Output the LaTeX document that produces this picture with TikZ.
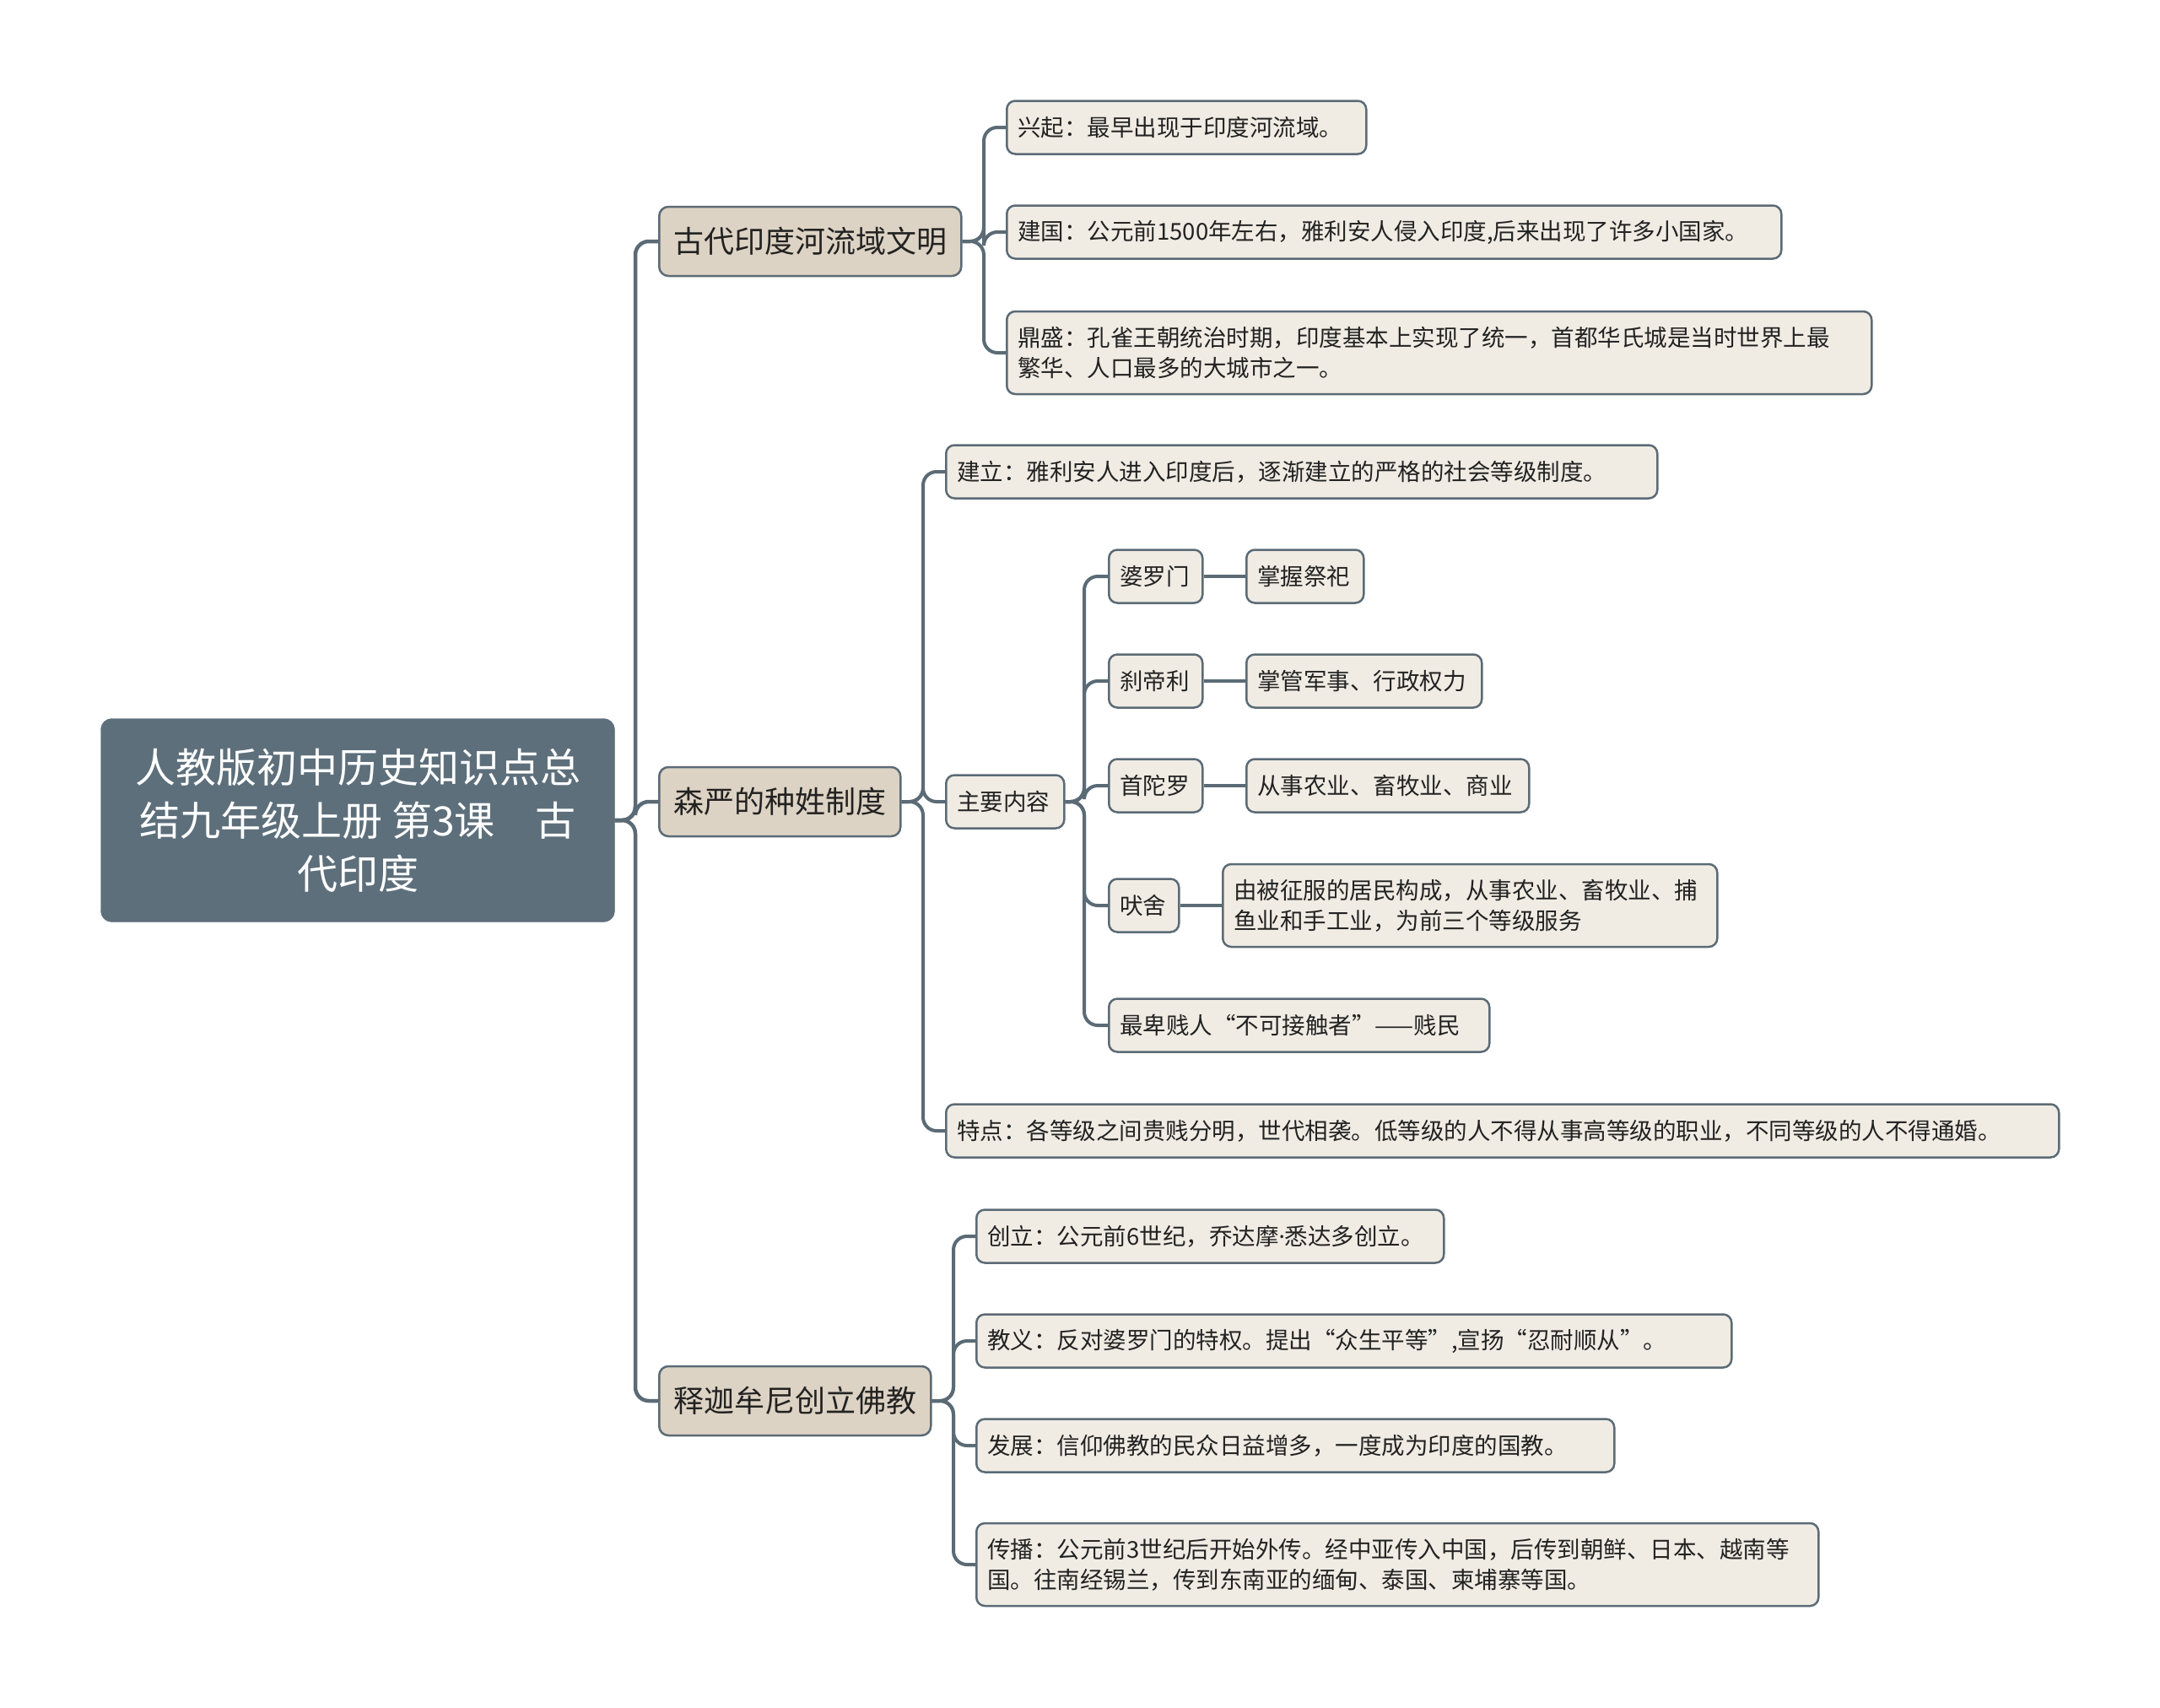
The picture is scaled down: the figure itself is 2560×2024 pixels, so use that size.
\documentclass[tikz,border=0pt]{standalone}
\usepackage{fontspec}
\setmainfont{Noto Sans CJK SC}
\newfontfamily\latinf{Noto Sans}
\definecolor{lnc}{HTML}{5B6B76}
\definecolor{rootc}{HTML}{5D6F7B}
\definecolor{lonec}{HTML}{DDD3C4}
\definecolor{ltwoc}{HTML}{F0ECE4}
\definecolor{txtc}{HTML}{222222}
\tikzset{
  rootbox/.style={draw=rootc, fill=rootc, rounded corners=13pt, text=white, align=center,
    minimum width=609pt, minimum height=241pt, inner sep=0pt,
    font=\fontsize{48}{63}\selectfont},
  onebox/.style={draw=lnc, line width=2.5pt, fill=lonec, rounded corners=11pt, text=txtc,
    minimum height=82pt, inner xsep=17pt, inner ysep=0pt, anchor=west,
    font=\fontsize{36}{44}\selectfont},
  twobox/.style={draw=lnc, line width=2.5pt, fill=ltwoc, rounded corners=10pt, text=txtc,
    minimum height=63pt, inner xsep=13pt, inner ysep=0pt, anchor=west, align=left,
    font=\fontsize{27.5}{36}\selectfont},
  conn/.style={draw=lnc, line width=4pt, rounded corners=16pt},
  mainconn/.style={draw=lnc, line width=4.5pt, rounded corners=16pt},
}
\begin{document}
\begin{tikzpicture}[x=1pt,y=-1pt]
\useasboundingbox (0,0) rectangle (2560,2024);
\fill[white] (0,0) rectangle (2560,2024);

% root
\node[rootbox] (root) at (424,972) {人教版初中历史知识点总\\结九年级上册 第3课\hspace{1em}古\\代印度};

% level 1
\node[onebox] (la) at (780,286) {古代印度河流域文明};
\node[onebox] (lb) at (780,950) {森严的种姓制度};
\node[onebox] (lc) at (780,1660) {释迦牟尼创立佛教};

% junction coordinates
\coordinate (jr) at (753,0);
\coordinate (ja) at (1166,0);
\coordinate (jb) at (1094,0);
\coordinate (jm) at (1285,0);
\coordinate (jc) at (1130,0);

% level 2 under la
\node[twobox, text width=400pt] (a1) at (1192,151) {兴起：最早出现于印度河流域。};
\node[twobox, text width=892pt] (a2) at (1192,275) {建国：公元前1500年左右，雅利安人侵入印度,后来出现了许多小国家。};
\node[twobox, text width=999pt, minimum height=98pt] (a3) at (1192,418) {鼎盛：孔雀王朝统治时期，印度基本上实现了统一，首都华氏城是当时世界上最\\繁华、人口最多的大城市之一。};

% level 2 under lb
\node[twobox, text width=817pt] (b1) at (1120,559) {建立：雅利安人进入印度后，逐渐建立的严格的社会等级制度。};
\node[twobox, text width=114pt] (b2) at (1120,950) {主要内容};
\node[twobox, text width=1293pt] (b3) at (1120,1340) {特点：各等级之间贵贱分明，世代相袭。低等级的人不得从事高等级的职业，不同等级的人不得通婚。};

% level 3
\node[twobox, text width=85pt] (c1) at (1313,683) {婆罗门};
\node[twobox, text width=85pt] (c2) at (1313,807) {刹帝利};
\node[twobox, text width=85pt] (c3) at (1313,931) {首陀罗};
\node[twobox, text width=57pt] (c4) at (1313,1073) {吠舍};
\node[twobox, text width=425pt] (c5) at (1313,1215) {最卑贱人“不可接触者”——贱民};

% level 4
\node[twobox, text width=113pt] (d1) at (1476,683) {掌握祭祀};
\node[twobox, text width=253pt] (d2) at (1476,807) {掌管军事、行政权力};
\node[twobox, text width=309pt] (d3) at (1476,931) {从事农业、畜牧业、商业};
\node[twobox, text width=560pt, minimum height=98pt] (d4) at (1448,1073) {由被征服的居民构成，从事农业、畜牧业、捕\\鱼业和手工业，为前三个等级服务};

% level 2 under lc
\node[twobox, text width=528pt] (e1) at (1156,1465) {创立：公元前6世纪，乔达摩{\latinf ·}悉达多创立。};
\node[twobox, text width=869pt] (e2) at (1156,1589) {教义：反对婆罗门的特权。提出“众生平等”,宣扬“忍耐顺从”。};
\node[twobox, text width=730pt] (e3) at (1156,1713) {发展：信仰佛教的民众日益增多，一度成为印度的国教。};
\node[twobox, text width=972pt, minimum height=98pt] (e4) at (1156,1854) {传播：公元前3世纪后开始外传。经中亚传入中国，后传到朝鲜、日本、越南等\\国。往南经锡兰，传到东南亚的缅甸、泰国、柬埔寨等国。};

% connectors
\foreach \c in {la,lb,lc}
  \draw[mainconn] (root.east) -- (jr |- root.east) |- (\c.west);
\foreach \c in {a1,a2,a3}
  \draw[conn] (la.east) -- (ja |- la.east) |- (\c.west);
\foreach \c in {b1,b2,b3}
  \draw[conn] (lb.east) -- (jb |- lb.east) |- (\c.west);
\foreach \c in {c1,c2,c3,c4,c5}
  \draw[conn] (b2.east) -- (jm |- b2.east) |- (\c.west);
\foreach \c in {e1,e2,e3,e4}
  \draw[conn] (lc.east) -- (jc |- lc.east) |- (\c.west);
\draw[conn] (c1.east) -- (d1.west);
\draw[conn] (c2.east) -- (d2.west);
\draw[conn] (c3.east) -- (d3.west);
\draw[conn] (c4.east) -- (d4.west);
\end{tikzpicture}
\end{document}
